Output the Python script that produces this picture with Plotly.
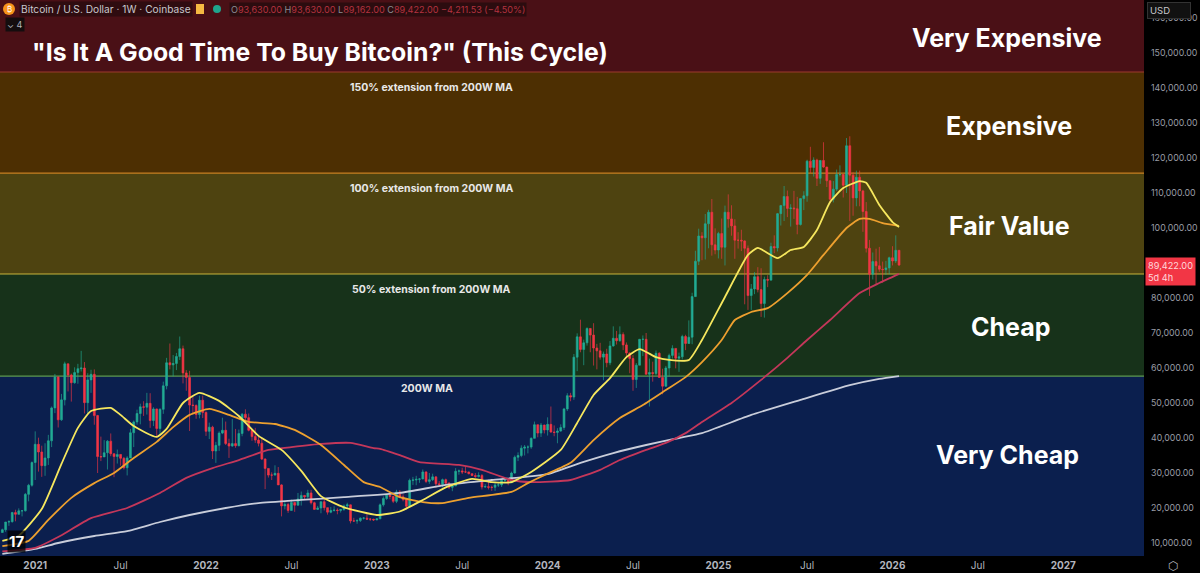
import numpy as np
import pandas as pd
import plotly.graph_objects as go

# weekly candles, thousands of USD
opens = [13.0,13.8,16.0,16.1,18.7,18.2,19.2,19.2,23.9,26.5,
    33.0,38.2,36.0,32.1,34.3,39.2,48.6,57.4,45.2,50.9,61.2,58.0,55.8,58.7,59.8,60.0,50.1,56.6,58.2,46.4,34.7,34.6,35.8,39.1,35.5,34.7,35.3,34.2,31.5,34.3,41.5,44.6,47.0,48.9,48.8,49.9,45.0,48.3,42.7,48.2,54.9,61.5,60.9,61.3,63.3,65.5,58.6,57.3,49.4,49.3,46.7,50.8,
    47.3,41.9,43.1,36.3,37.9,41.4,42.2,38.4,37.7,38.4,37.8,41.3,46.8,45.8,42.2,40.4,39.4,38.5,34.0,31.3,29.4,29.4,29.9,26.6,20.6,21.0,19.3,21.6,20.8,22.6,23.6,23.2,24.3,21.5,19.6,20.0,21.8,20.1,18.8,19.3,19.4,19.3,19.6,20.6,20.9,16.3,16.3,16.4,17.1,17.1,16.8,16.8,
    16.6,16.9,20.9,22.7,23.7,23.3,21.9,24.6,23.2,22.4,20.5,27.9,28.0,28.2,28.3,30.3,27.6,28.1,28.9,26.9,26.7,28.1,27.1,25.9,26.3,30.5,30.6,30.3,30.3,29.8,29.3,29.0,29.3,26.0,26.1,25.9,25.9,26.6,26.6,27.9,27.9,27.2,30.0,34.5,35.0,37.1,37.4,37.4,39.9,43.8,41.4,43.7,
    42.3,43.9,41.7,41.6,42.0,43.0,48.3,52.1,51.7,63.1,68.9,65.3,67.2,71.3,69.4,65.7,64.9,63.1,64.0,61.5,66.3,68.5,67.8,69.6,66.6,64.3,62.7,56.7,60.8,68.2,68.2,58.2,58.7,58.4,64.2,57.3,54.8,60.0,63.6,65.6,62.8,63.2,69.0,67.0,68.8,80.4,90.5,97.7,97.2,101.2,104.5,95.2,
    93.7,98.4,94.5,104.5,102.6,100.6,96.5,96.5,96.3,94.2,80.7,82.6,86.1,82.4,78.4,85.3,85.1,94.7,94.3,104.1,106.4,109.0,105.6,105.7,105.5,101.0,108.4,109.2,119.1,117.3,119.4,114.2,119.3,117.4,113.5,108.2,111.1,115.3,115.3,112.2,123.5,115.1,108.6,114.5,110.6,104.7,94.2,86.8,90.4,89.2,88.2,88.1,88.6,
    91.5,90.6,93.63]
highs = [14.1,16.0,16.5,18.9,19.5,19.9,19.4,24.3,26.9,33.3,
    41.9,40.1,37.8,38.5,40.9,49.0,58.3,57.6,52.6,61.8,61.2,58.4,60.2,61.2,64.9,61.7,58.5,59.5,59.6,46.6,40.4,39.4,39.4,41.3,35.6,36.7,35.4,34.6,34.8,42.6,45.0,48.1,49.8,50.5,52.9,52.8,48.8,48.4,48.5,56.1,62.9,67.0,63.7,64.3,69.0,66.4,59.4,59.2,51.9,49.6,52.1,52.1,
    47.6,44.4,43.5,38.9,41.9,45.8,44.7,39.8,45.4,42.6,42.4,47.1,48.2,47.0,42.4,42.9,40.8,40.0,34.2,31.3,30.2,32.2,31.7,26.8,21.9,21.5,22.4,21.7,24.3,24.7,23.7,25.2,25.2,21.8,20.6,21.8,22.8,20.1,20.3,20.5,19.9,19.7,21.0,21.5,21.0,17.2,16.8,17.3,17.4,18.4,17.1,16.9,
    17.0,21.3,23.3,23.8,24.2,23.4,25.2,25.1,23.9,22.6,28.4,28.9,29.2,28.5,31.0,30.5,30.0,29.8,29.0,27.7,28.4,28.4,27.4,26.8,31.4,31.0,31.5,31.8,30.4,29.9,30.0,30.2,29.7,26.8,28.1,26.4,27.5,27.5,28.1,28.6,27.9,30.4,35.0,35.9,37.9,38.0,37.9,40.2,44.7,43.8,44.3,43.8,
    45.9,49.0,43.6,42.8,43.9,48.6,52.8,52.9,64.0,69.9,73.8,68.1,71.6,71.4,72.8,66.9,67.2,64.7,65.5,67.7,71.9,70.6,71.9,70.2,67.3,64.5,63.7,61.4,68.3,69.3,70.0,62.7,61.8,65.0,64.5,59.8,60.6,64.1,66.5,65.6,64.4,69.5,69.5,73.6,81.5,93.5,99.8,98.8,104.0,105.2,108.3,99.9,
    98.9,102.7,106.4,109.6,106.5,102.5,98.8,99.5,96.5,95.0,84.0,87.4,88.8,88.5,86.1,86.5,95.8,97.9,104.3,106.6,112.0,110.7,106.8,110.6,108.9,108.5,110.5,119.5,123.2,120.2,119.8,119.3,124.5,117.5,113.6,113.4,116.7,117.9,115.4,125.7,126.2,115.9,116.4,116.4,110.9,107.4,96.6,93.0,94.1,94.6,90.4,90.6,91.8,
    94.8,97.9,93.63]
lows = [13.0,13.2,14.9,15.8,16.2,18.1,17.6,19.0,21.9,26.1,
    28.0,30.4,28.9,29.2,32.3,37.4,47.1,43.0,44.9,49.3,53.3,50.4,55.5,55.5,59.0,47.0,47.0,52.9,43.8,30.0,33.4,35.0,31.0,34.8,28.8,32.7,32.1,31.0,29.3,34.3,37.4,43.8,43.9,46.3,46.7,42.9,43.4,40.2,40.8,46.9,53.9,59.6,57.6,59.4,62.3,55.6,53.5,42.0,46.8,45.5,45.6,45.7,
    40.6,39.7,34.0,32.9,36.3,41.1,38.0,34.3,37.5,37.2,37.6,40.5,44.2,41.9,39.2,38.6,37.6,33.7,25.4,28.7,28.0,29.3,26.6,17.6,19.6,18.6,19.3,18.9,20.7,20.7,22.4,22.7,21.0,19.6,19.5,18.5,19.3,18.1,18.5,19.0,18.2,18.7,19.2,20.0,15.6,16.0,15.5,16.0,16.7,16.6,16.3,16.3,
    16.5,16.9,20.4,22.3,22.5,21.4,21.4,22.8,21.9,19.6,20.2,26.6,26.5,27.2,28.2,27.1,26.9,27.7,25.8,26.4,25.9,26.5,25.4,24.8,26.3,29.5,29.7,30.0,29.6,29.1,28.6,28.7,25.3,25.8,25.3,24.9,24.9,26.0,26.0,27.2,26.5,27.1,29.8,33.4,34.5,35.0,35.6,36.9,39.9,40.2,40.3,41.3,
    40.7,41.5,40.5,38.5,41.8,42.3,47.7,50.5,50.9,59.1,64.5,60.8,66.4,64.5,60.7,59.6,62.4,56.5,60.2,60.8,66.1,66.7,67.5,65.1,63.4,58.5,53.5,54.3,60.8,63.4,58.2,49.0,56.1,57.9,57.2,52.5,54.6,57.5,62.7,59.9,58.9,62.4,65.1,67.0,66.8,80.3,89.4,90.8,91.0,94.2,92.1,92.5,
    91.3,91.2,89.3,100.1,97.8,91.2,94.1,93.4,78.2,76.6,76.6,81.1,81.6,74.6,74.4,83.1,85.1,92.8,93.3,100.7,102.0,103.1,100.4,102.6,98.2,100.7,105.1,107.5,115.7,114.7,112.0,112.6,117.2,111.7,107.3,107.3,110.6,114.7,108.7,110.0,102.0,103.5,106.2,106.2,98.9,93.0,80.6,85.3,83.9,87.5,84.4,86.6,86.8,
    89.3,90.0,89.16]
closes = [13.8,16.0,16.1,18.7,18.2,19.2,19.2,23.9,26.5,33.0,
    38.2,36.0,32.1,34.3,39.2,48.6,57.4,45.2,50.9,61.2,58.0,55.8,58.7,59.8,60.0,50.1,56.6,58.2,46.4,34.7,34.6,35.8,39.1,35.5,34.7,35.3,34.2,31.5,34.3,41.5,44.6,47.0,48.9,48.8,49.9,45.0,48.3,42.7,48.2,54.9,61.5,60.9,61.3,63.3,65.5,58.6,57.3,49.4,49.3,46.7,50.8,47.3,
    41.9,43.1,36.3,37.9,41.4,42.2,38.4,37.7,38.4,37.8,41.3,46.8,45.8,42.2,40.4,39.4,38.5,34.0,31.3,29.4,29.4,29.9,26.6,20.6,21.0,19.3,21.6,20.8,22.6,23.6,23.2,24.3,21.5,19.6,20.0,21.8,20.1,18.8,19.3,19.4,19.3,19.6,20.6,20.9,16.3,16.3,16.4,17.1,17.1,16.8,16.8,16.6,
    16.9,20.9,22.7,23.7,23.3,21.9,24.6,23.2,22.4,20.5,27.9,28.0,28.2,28.3,30.3,27.6,28.1,28.9,26.9,26.7,28.1,27.1,25.9,26.3,30.5,30.6,30.3,30.3,29.8,29.3,29.0,29.3,26.0,26.1,25.9,25.9,26.6,26.6,27.9,27.9,27.2,30.0,34.5,35.0,37.1,37.4,37.4,39.9,43.8,41.4,43.7,42.3,
    43.9,41.7,41.6,42.0,43.0,48.3,52.1,51.7,63.1,68.9,65.3,67.2,71.3,69.4,65.7,64.9,63.1,64.0,61.5,66.3,68.5,67.8,69.6,66.6,64.3,62.7,56.7,60.8,68.2,68.2,58.2,58.7,58.4,64.2,57.3,54.8,60.0,63.6,65.6,62.8,63.2,69.0,67.0,68.8,80.4,90.5,97.7,97.2,101.2,104.5,95.2,93.7,
    98.4,94.5,104.5,102.6,100.6,96.5,96.5,96.3,94.2,80.7,82.6,86.1,82.4,78.4,85.3,85.1,94.7,94.3,104.1,106.4,109.0,105.6,105.7,105.5,101.0,108.4,109.2,119.1,117.3,119.4,114.2,119.3,117.4,113.5,108.2,111.1,115.3,115.3,112.2,123.5,115.1,108.6,114.5,110.6,104.7,94.2,86.8,90.4,89.2,88.2,88.1,88.6,91.5,
    90.6,93.63,89.42]

# moving averages read at a handful of weeks (index into the candle list), thousands of USD
ma_yellow_weeks = [0,5,12,18,23,27,33,36,40,47,50,55,60,66,72,78,85,91,97,104,114,121,128,135,143,149,155,161,170,175,180,185,190,194,199,203,209,213,220,227,230,236,240,244,248,252,256,261,263,267,271,273]
ma_yellow = [10.6,12.1,19.7,32.6,42.9,47.7,48.6,46.6,43.4,40.3,42.6,50.0,52.9,50.6,46.3,40.6,36.6,30.6,23.4,20.2,18.0,19.0,22.3,25.9,28.3,27.4,27.4,30.3,36.6,44.3,52.3,57.1,63.1,65.4,63.1,62.3,62.3,68.0,80.3,92.3,94.3,91.4,93.7,94.6,99.4,107.4,111.4,113.4,112.9,106.6,101.7,100.3]
ma_orange_weeks = [0,8,14,21,28,34,40,47,52,57,63,69,75,83,89,97,104,110,115,121,128,134,142,155,160,165,173,180,188,195,202,208,213,219,223,228,233,239,245,250,257,261,264,268,273]
ma_orange = [9.1,10.6,16.6,22.9,27.1,30.0,34.3,38.9,43.1,46.6,48.3,46.6,44.6,44.0,42.3,38.0,32.3,27.4,26.0,23.1,21.7,21.4,22.9,24.6,27.1,29.4,32.9,39.4,45.7,49.4,53.7,57.4,61.7,68.0,73.7,76.0,77.1,81.4,86.6,92.3,100.0,102.6,102.6,101.4,100.6]
ma_red_weeks = [0,10,17,27,38,48,56,64,72,81,88,97,106,113,115,121,127,139,146,155,161,173,182,188,196,202,208,213,222,231,239,245,252,261,267,273]
ma_red = [7.6,8.6,11.7,17.1,20.0,24.3,28.6,31.4,33.7,36.6,37.4,38.3,38.6,37.1,36.9,35.1,33.1,32.3,30.9,28.0,27.4,28.0,30.9,33.7,36.6,38.6,41.4,44.6,50.0,56.6,62.9,68.0,73.7,81.4,84.3,86.9]
ma_white_weeks = [0,10,17,28,38,48,57,68,78,91,104,121,135,149,166,176,186,196,206,213,228,243,258,267,273]
ma_white = [6.9,8.3,10.0,12.0,13.4,16.0,18.0,20.0,21.4,22.3,23.1,24.3,26.6,28.0,29.7,32.9,35.7,38.0,40.0,41.4,46.6,50.9,55.1,56.9,57.7]

# valuation zones, USD
zone_edges = [6286, 57700, 86857, 115700, 144570, 165140]
zone_colors = ["#0b1f4e", "#17321a", "#4e4310", "#4d2f02", "#4a1016"]
zone_names = ["Very Cheap", "Cheap", "Fair Value", "Expensive", "Very Expensive"]
zone_name_px = [(1007, 455), (1010, 327), (1009, 226), (1009, 126), (1007, 38)]
edge_colors = ["#5e9a4e", "#c8b43a", "#c87f20", "#9c3a2c"]
extension_labels = ["200W MA", "50% extension from 200W MA", "100% extension from 200W MA", "150% extension from 200W MA"]
extension_px = [(427, 388), (431, 289), (431, 188), (431, 87)]

x_tick_dates = ["2021-01-04","2021-07-05","2022-01-03","2022-07-04","2023-01-02","2023-07-03","2024-01-01","2024-07-01","2024-12-30","2025-07-07","2026-01-05","2026-07-06","2027-01-04"]
x_tick_text = ["<b>2021</b>","Jul","<b>2022</b>","Jul","<b>2023</b>","Jul","<b>2024</b>","Jul","<b>2025</b>","Jul","<b>2026</b>","Jul","<b>2027</b>"]
# 90,000 sits under the last price tag in the reference
y_ticks = [10000,20000,30000,40000,50000,60000,70000,80000,100000,110000,120000,130000,140000,150000,160000]

PLOT_W, PLOT_H = 1144, 556
FONT = "Inter"


def pxp(x, y):
    # window pixels to paper fractions
    return x / PLOT_W, 1 - y / PLOT_H


def label(text, x, y, size, color="#ffffff", anchor="center", bg=None, **kw):
    px, py = pxp(x, y)
    fig.add_annotation(text=text, x=px, y=py, xref="paper", yref="paper", showarrow=False,
                       xanchor=anchor, yanchor="middle", bgcolor=bg,
                       font=dict(family=FONT, size=size, color=color), **kw)


dates = pd.date_range("2020-10-26", periods=len(closes), freq="7D")
fig = go.Figure()

# coloured zones behind everything
for i, color in enumerate(zone_colors):
    fig.add_shape(type="rect", xref="paper", x0=0, x1=1, y0=zone_edges[i], y1=zone_edges[i + 1],
                  fillcolor=color, line_width=0, layer="below")
for i, color in enumerate(edge_colors):
    fig.add_shape(type="line", xref="paper", x0=0, x1=1, y0=zone_edges[i + 1], y1=zone_edges[i + 1],
                  line=dict(color=color, width=1.2), layer="below")

fig.add_trace(go.Candlestick(
    x=dates,
    open=np.array(opens) * 1000, high=np.array(highs) * 1000,
    low=np.array(lows) * 1000, close=np.array(closes) * 1000,
    name="BTCUSD", whiskerwidth=0,
    increasing=dict(line=dict(color="rgba(34,171,148,0.65)", width=1), fillcolor="#22ab94"),
    decreasing=dict(line=dict(color="rgba(242,54,69,0.65)", width=1), fillcolor="#f23645"),
))

for weeks, vals, color, name in [(ma_white_weeks, ma_white, "#c9cdda", "MA 200"),
                                 (ma_red_weeks, ma_red, "#c4375a", "MA 100"),
                                 (ma_orange_weeks, ma_orange, "#eda02f", "MA 50"),
                                 (ma_yellow_weeks, ma_yellow, "#f6e75e", "MA 20")]:
    fig.add_trace(go.Scatter(x=dates[weeks], y=np.array(vals) * 1000, mode="lines", name=name,
                             line=dict(color=color, width=1.8, shape="spline", smoothing=0.5)))

fig.update_layout(
    width=1200, height=573,
    margin=dict(l=0, r=56, t=0, b=17),
    paper_bgcolor="#000000", plot_bgcolor="#000000",
    showlegend=False,
    font=dict(family=FONT),
    boxgap=0.2,
)
fig.update_xaxes(
    type="date", range=["2020-10-21", "2027-06-25"], rangeslider_visible=False, automargin=False,
    showgrid=False, zeroline=False, tickmode="array", tickvals=x_tick_dates, ticktext=x_tick_text,
    ticks="", tickangle=0, ticklabelstandoff=2, tickfont=dict(family=FONT, size=10, color="#b2b5be"),
)
fig.update_yaxes(
    range=[zone_edges[0], zone_edges[-1]], side="right", showgrid=False, zeroline=False, automargin=False,
    tickmode="array", tickvals=y_ticks, tickformat=",.2f", ticks="", ticklabelstandoff=6,
    tickfont=dict(family=FONT, size=8.8, color="#9a9da6"),
)

# big headings and zone captions
label('<b>"Is It A Good Time To Buy Bitcoin?" (This Cycle)</b>', 320, 52, 24.8)
for name, (x, y) in zip(zone_names, zone_name_px):
    label(f"<b>{name}</b>", x, y, 25)
for text, (x, y) in zip(extension_labels, extension_px):
    label(f"<b>{text}</b>", x, y, 10.5, color="#e8e8e8")

# TradingView style header strip
label("Bitcoin / U.S. Dollar · 1W · Coinbase", 19, 9, 10.2, color="#c8c8cc", anchor="left", bg="rgba(25,10,12,0.55)")
val = "#b4323f"
lab = "#8a8d94"
ohlc = (f'<span style="color:{lab}">O</span>93,630.00 <span style="color:{lab}">H</span>93,630.00 '
        f'<span style="color:{lab}">L</span>89,162.00 <span style="color:{lab}">C</span>89,422.00 −4,211.53 (−4.50%)')
label(ohlc, 229, 9, 9.1, color=val, anchor="left", bg="rgba(25,10,12,0.6)")
label("⌄ 4", 5, 25, 9, color="#b2b5be", anchor="left", bg="#140d0e")
for x0, x1, y0, y1, color, kind in [(3, 15, 3, 15, "#f7931a", "circle"), (213, 221, 5, 13, "#1fa58d", "circle"), (196, 204, 4, 14, "#f5b942", "rect")]:
    a0, b0 = pxp(x0, y0)
    a1, b1 = pxp(x1, y1)
    fig.add_shape(type=kind, xref="paper", yref="paper", x0=a0, x1=a1, y0=b0, y1=b1, fillcolor=color, line_width=0)
label("₿", 9, 9, 8, color="#ffffff")
label("<b>17</b>", 16, 541, 15, color="#ffffff", bg="rgba(0,0,0,0.75)")

# right axis furniture
label("USD", 1147, 10, 9.5, color="#c8c8cc", anchor="left", bg="#111111", bordercolor="#333333", borderwidth=1, borderpad=2, width=38, align="left")
label("89,422.00<br>5d 4h", 1145, 271, 9.2, color="#ffd8dc", anchor="left", bg="#f23645", borderpad=2, align="left")
label("⬡", 1173, 565, 12, color="#b2b5be")

fig.write_html("out.html", config={"displayModeBar": False}, post_script="document.body.style.margin='0';")
